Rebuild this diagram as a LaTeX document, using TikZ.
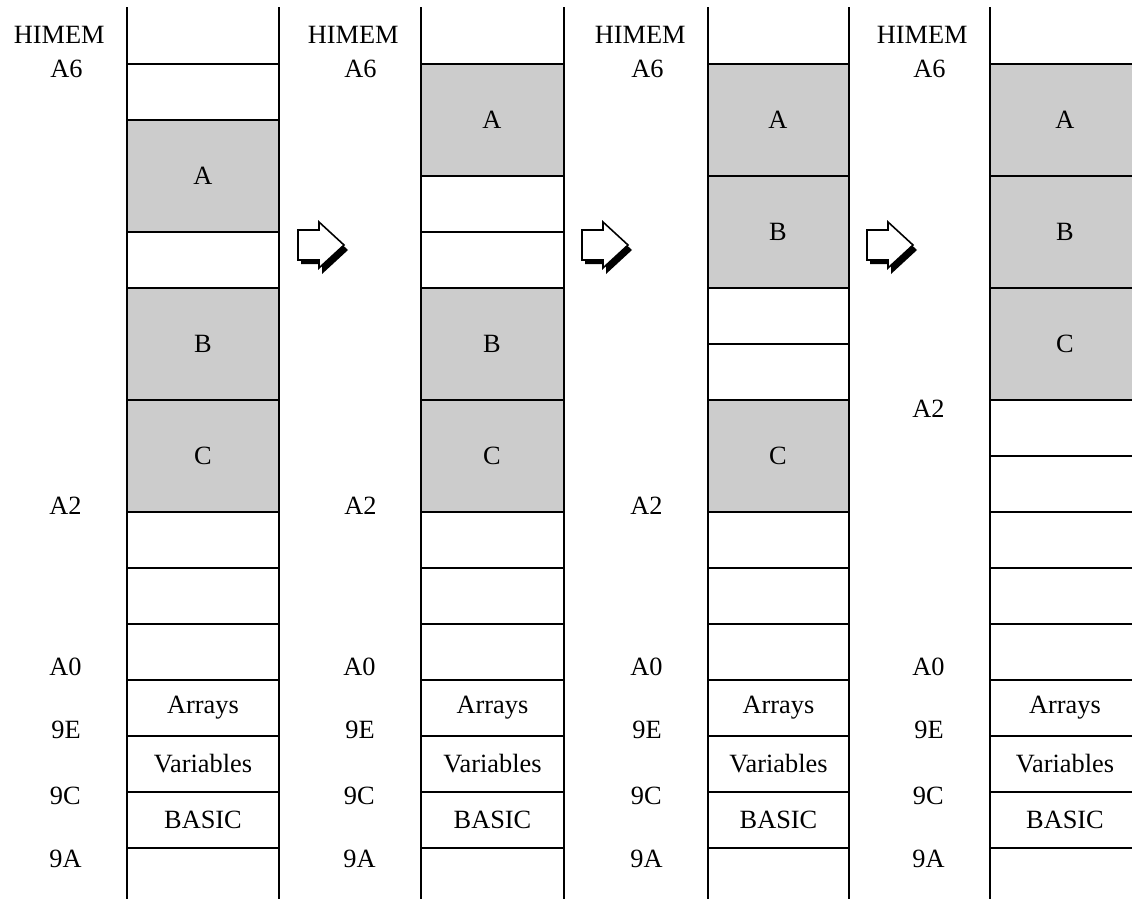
\documentclass[tikz,border=0pt]{standalone}
\usepackage{fontspec}
\setmainfont{Liberation Serif}
\usetikzlibrary{calc}

\tikzset{
  wall/.style={line width=1.4pt},
  rule/.style={line width=1.1pt},
  used/.style={fill=black!20},
  addr/.style={anchor=east, inner sep=0pt},
  cell/.style={inner sep=0pt},
  shade/.style={fill=black},
  move/.style={fill=white, draw=black, line width=0.9pt, line join=miter},
}

\begin{document}
\begin{tikzpicture}[x=0.02cm, y=-0.02cm, font=\fontsize{15}{18}\selectfont]
\useasboundingbox (0,0) rectangle (1132,899);
\clip (0,0) rectangle (1132,899);

% shaded blocks
\fill[used] (127,120) rectangle (279,232);
\fill[used] (127,288) rectangle (279,512);
\fill[used] (421,64) rectangle (564,176);
\fill[used] (421,288) rectangle (564,512);
\fill[used] (708,64) rectangle (849,288);
\fill[used] (708,400) rectangle (849,512);
\fill[used] (990,64) rectangle (1140,400);

% what the four maps share
\foreach \L/\R/\n in {127/279/1,421/564/2,708/849/3,990/1140/4}{
  \draw[wall] (\L,7) -- (\L,899);
  \draw[wall] (\R,7) -- (\R,899);
  \draw[rule] (\L,64) -- (\R,64);
  \foreach \y in {512,568,...,848}
    \draw[rule] (\L,\y) -- (\R,\y);
  \node[addr] (himem\n) at (\L-22,35) {HIMEM};
  \node[addr] (a6\n) at (\L-44,69) {A6};
  \node[addr] (a0\n) at (\L-45,667) {A0};
  \node[addr] (x9e\n) at (\L-46,730) {9E};
  \node[addr] (x9c\n) at (\L-46,796) {9C};
  \node[addr] (x9a\n) at (\L-45,859) {9A};
  \node[cell] (arrays\n) at ({(\L+\R)/2},708) {Arrays};
  \node[cell] (vars\n) at ({(\L+\R)/2},764) {Variables};
  \node[cell] (basic\n) at ({(\L+\R)/2},820) {BASIC};
}

% first map
\foreach \y in {120,232,288,400}
  \draw[rule] (127,\y) -- (279,\y);
\node[addr] (a21) at (82,506) {A2};
\node[cell] (blkA1) at (203,176) {A};
\node[cell] (blkB1) at (203,344) {B};
\node[cell] (blkC1) at (203,456) {C};

% second map
\foreach \y in {176,232,288,400}
  \draw[rule] (421,\y) -- (564,\y);
\node[addr] (a22) at (377,506) {A2};
\node[cell] (blkA2) at (492,120) {A};
\node[cell] (blkB2) at (492,344) {B};
\node[cell] (blkC2) at (492,456) {C};

% third map
\foreach \y in {176,288,344,400}
  \draw[rule] (708,\y) -- (849,\y);
\node[addr] (a23) at (663,506) {A2};
\node[cell] (blkA3) at (778,120) {A};
\node[cell] (blkB3) at (778,232) {B};
\node[cell] (blkC3) at (778,456) {C};

% fourth map
\foreach \y in {176,288,400,456}
  \draw[rule] (990,\y) -- (1140,\y);
\node[addr] (a24) at (945,409) {A2};
\node[cell] (blkA4) at (1065,120) {A};
\node[cell] (blkB4) at (1065,232) {B};
\node[cell] (blkC4) at (1065,344) {C};

% block arrows between the maps
\foreach \x in {298,582,867}{
  \begin{scope}[shift={(\x,230)}]
    \fill[shade] (3,4) -- (24,4) -- (24,-4) -- (50,20) -- (24,44) -- (24,34) -- (3,34) -- cycle;
    \filldraw[move] (0,0) -- (21,0) -- (21,-8) -- (46,15) -- (21,38) -- (21,30) -- (0,30) -- cycle;
  \end{scope}
}
\end{tikzpicture}
\end{document}
